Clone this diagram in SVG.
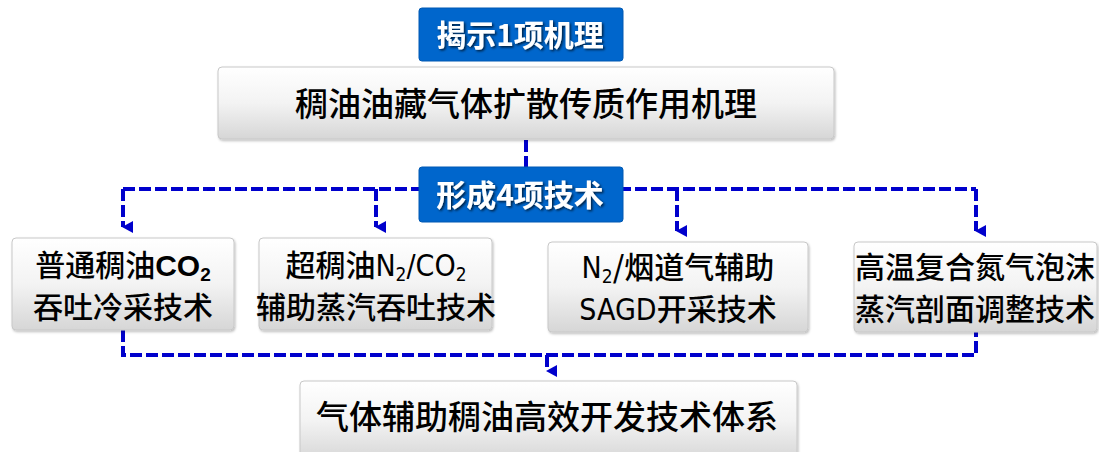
<svg xmlns="http://www.w3.org/2000/svg" width="1099" height="452" viewBox="0 0 1099 452">
<defs>
<linearGradient id="g" x1="0" y1="0" x2="0" y2="1">
<stop offset="0" stop-color="#ffffff"/>
<stop offset="0.5" stop-color="#f3f3f3"/>
<stop offset="1" stop-color="#d6d6d6"/>
</linearGradient>
<filter id="ts" x="-10%" y="-20%" width="130%" height="150%">
<feDropShadow dx="1.5" dy="1.5" stdDeviation="0.8" flood-color="#000" flood-opacity="0.7"/>
</filter>
<filter id="bs" x="-5%" y="-5%" width="110%" height="115%">
<feDropShadow dx="1" dy="1.5" stdDeviation="1.2" flood-color="#000" flood-opacity="0.25"/>
</filter>
<marker id="ah" markerWidth="12" markerHeight="11" refX="6" refY="10" orient="auto" markerUnits="userSpaceOnUse" viewBox="0 0 12 11">
<path d="M0,0 L12,0 L6,11 Z" fill="#0000cc"/>
</marker>
<style>
.box{fill:url(#g);stroke:#c8c8c8;stroke-width:1;filter:url(#bs)}
.blue{fill:#0066cc;stroke:#0059b3;stroke-width:1}
.bt{font-family:"Noto Sans CJK SC","Liberation Sans",sans-serif;font-weight:bold;font-size:30px;fill:#fff;filter:url(#ts)}
.t{font-family:"Noto Sans CJK SC","Liberation Sans",sans-serif;font-weight:500;font-size:30px;fill:#000}
.big{font-size:33px}
.lat{font-family:"DejaVu Sans Condensed","Liberation Sans",sans-serif;font-stretch:condensed}
.cn{stroke:#0000cc;stroke-width:4;fill:none;stroke-dasharray:12 4}
</style>
</defs>
<g id="connectors">
<path class="cn" d="M526,140 V167"/>
<path class="cn" d="M123,189 H976"/>
<path class="cn" d="M123,189 V227" marker-end="url(#ah)"/>
<path class="cn" d="M376,189 V227" marker-end="url(#ah)"/>
<path class="cn" d="M677,189 V231" marker-end="url(#ah)"/>
<path class="cn" d="M976,189 V231" marker-end="url(#ah)"/>
<path class="cn" d="M123,330 V355 H976 V332"/>
<path class="cn" d="M547,355 V371" marker-end="url(#ah)"/>
</g>
<g id="n_reveal">
<rect class="blue" x="419" y="8" width="204" height="53" rx="3"/>
<text class="bt" x="520" y="46" text-anchor="middle">揭示1项机理</text>
</g>
<g id="n_mech">
<rect class="box" x="218" y="67" width="616" height="72" rx="4"/>
<text class="t big" x="526" y="116" text-anchor="middle">稠油油藏气体扩散传质作用机理</text>
</g>
<g id="n_form">
<rect class="blue" x="419" y="167" width="204" height="55" rx="3"/>
<text class="bt" x="520" y="206" text-anchor="middle">形成4项技术</text>
</g>
<g id="n_t1">
<rect class="box" x="12" y="238" width="222" height="92" rx="4"/>
<text class="t" x="123" y="276" text-anchor="middle">普通稠油<tspan font-family="Liberation Sans" font-weight="bold">CO</tspan><tspan font-family="Liberation Sans" font-weight="bold" font-size="19" dy="5">2</tspan></text>
<text class="t" x="123" y="318" text-anchor="middle">吞吐冷采技术</text>
</g>
<g id="n_t2">
<rect class="box" x="259" y="238" width="233" height="92" rx="4"/>
<text class="t" x="376" y="276" text-anchor="middle">超稠油<tspan class="lat">N</tspan><tspan class="lat" font-size="19" dy="5">2</tspan><tspan class="lat" dy="-5">/CO</tspan><tspan class="lat" font-size="19" dy="5">2</tspan></text>
<text class="t" x="376" y="318" text-anchor="middle">辅助蒸汽吞吐技术</text>
</g>
<g id="n_t3">
<rect class="box" x="548" y="242" width="260" height="90" rx="4"/>
<text class="t" x="678" y="278" text-anchor="middle"><tspan class="lat">N</tspan><tspan class="lat" font-size="19" dy="5">2</tspan><tspan dy="-5">/烟道气辅助</tspan></text>
<text class="t" x="678" y="320" text-anchor="middle"><tspan class="lat">SAGD</tspan>开采技术</text>
</g>
<g id="n_t4">
<rect class="box" x="854" y="242" width="243" height="90" rx="4"/>
<text class="t" x="975" y="278" text-anchor="middle">高温复合氮气泡沫</text>
<text class="t" x="975" y="320" text-anchor="middle">蒸汽剖面调整技术</text>
</g>
<g id="n_sys">
<rect class="box" x="300" y="381" width="497" height="80" rx="4"/>
<text class="t big" x="547" y="429" text-anchor="middle">气体辅助稠油高效开发技术体系</text>
</g>
</svg>
